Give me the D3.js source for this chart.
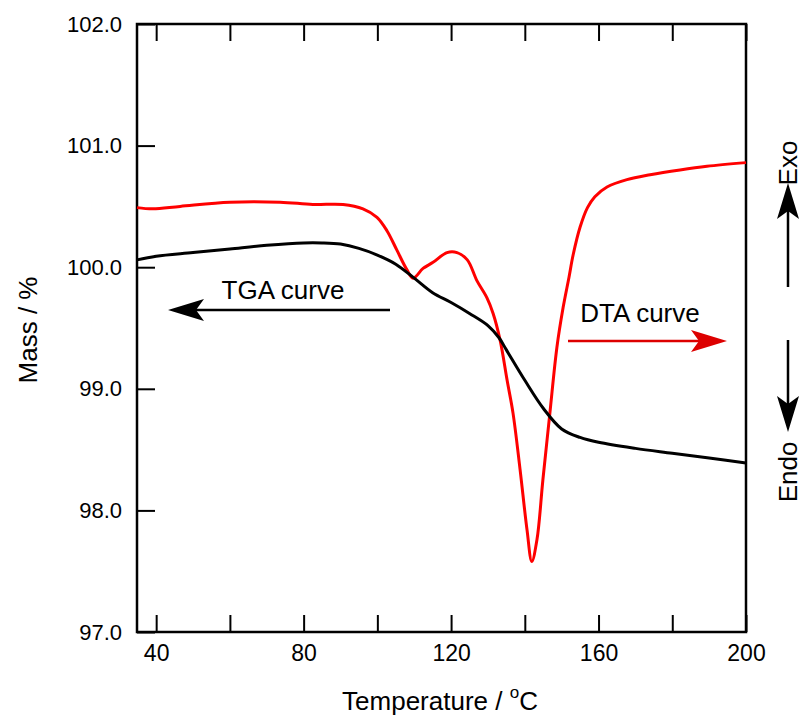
<!DOCTYPE html>
<html>
<head>
<meta charset="utf-8">
<script src="https://cdn.jsdelivr.net/npm/d3@7/dist/d3.min.js"></script>
<style>
  body { margin: 0; background: #fff; }
  text { font-family: "Liberation Sans", Arial, sans-serif; fill: #000; }
</style>
</head>
<body>
<div id="chart"></div>
<script>
// TGA curve (mass %)
var tgaTemp = [34.8, 40, 50, 60, 70, 80, 85, 90, 95, 100, 105, 110, 115, 120, 125, 130, 133, 135, 140, 145, 150, 155, 160, 170, 180, 190, 200];
var tgaMass = [100.06, 100.09, 100.12, 100.15, 100.18, 100.2, 100.2, 100.19, 100.155, 100.1, 100.025, 99.91, 99.79, 99.71, 99.62, 99.52, 99.42, 99.32, 99.07, 98.84, 98.67, 98.6, 98.56, 98.51, 98.47, 98.43, 98.39];

// DTA curve, drawn on the same vertical scale (no axis of its own)
var dtaTemp = [34.8, 39.1, 46.5, 60, 73.6, 82.5, 90.7, 96.1, 99.9, 102.6, 105.3, 108, 109.7, 112.4, 115.1, 118.9, 121.6, 124.4, 127, 129.7, 131.4, 133.3, 135.2, 136.8, 138.7, 140.6, 141.9, 143.3, 144.9, 146.8, 148.7, 150.4, 152, 153.1, 155, 157, 159, 162.3, 167.7, 174, 182.1, 189.4, 200];
var dtaSignal = [100.49, 100.48, 100.5, 100.535, 100.535, 100.516, 100.516, 100.48, 100.41, 100.3, 100.14, 99.98, 99.91, 99.99, 100.04, 100.12, 100.12, 100.06, 99.89, 99.75, 99.62, 99.4, 99.07, 98.8, 98.34, 97.84, 97.58, 97.76, 98.25, 98.8, 99.34, 99.67, 99.92, 100.1, 100.33, 100.49, 100.58, 100.66, 100.72, 100.76, 100.8, 100.83, 100.86];

var xTicks = [40, 60, 80, 100, 120, 140, 160, 180, 200];
var xLabelled = [40, 80, 120, 160, 200];
var yTicks = [97, 98, 99, 100, 101, 102];

var width = 803, height = 717;
var margin = { top: 24, right: 57, bottom: 85, left: 137 };

var x = d3.scaleLinear()
  .domain([34.8, 200])
  .range([margin.left, width - margin.right]);

var y = d3.scaleLinear()
  .domain([97, 102])
  .range([height - margin.bottom, margin.top]);

var svg = d3.select('#chart')
  .append('svg')
  .attr('width', width)
  .attr('height', height);

// axes, ticks pointing inwards
var xAxis = svg.append('g')
  .attr('transform', 'translate(0,' + y(97) + ')')
  .call(d3.axisBottom(x)
    .tickValues(xTicks)
    .tickSizeInner(-17)
    .tickSizeOuter(0)
    .tickPadding(13)
    .tickFormat(function (d) { return xLabelled.indexOf(d) >= 0 ? d : ''; }));
xAxis.selectAll('text').attr('font-size', 23);

svg.append('g')
  .attr('transform', 'translate(0,' + y(102) + ')')
  .call(d3.axisTop(x)
    .tickValues(xTicks)
    .tickSizeInner(-17)
    .tickSizeOuter(0)
    .tickFormat(''));

var yAxis = svg.append('g')
  .attr('transform', 'translate(' + x.range()[0] + ',0)')
  .call(d3.axisLeft(y)
    .tickValues(yTicks)
    .tickSizeInner(-18)
    .tickSizeOuter(0)
    .tickPadding(15)
    .tickFormat(d3.format('.1f')));
yAxis.selectAll('text').attr('font-size', 22);

svg.selectAll('.domain').remove();
svg.selectAll('.tick line').attr('stroke', '#000').attr('stroke-width', 2);
svg.selectAll('.tick text').attr('font-family', '"Liberation Sans", Arial, sans-serif').attr('fill', '#000');

svg.append('rect')
  .attr('x', x.range()[0])
  .attr('y', y(102))
  .attr('width', x.range()[1] - x.range()[0])
  .attr('height', y(97) - y(102))
  .attr('fill', 'none')
  .attr('stroke', '#000')
  .attr('stroke-width', 2.5);

// curves
var tgaLine = d3.line()
  .x(function (d, i) { return x(tgaTemp[i]); })
  .y(function (d) { return y(d); })
  .curve(d3.curveCatmullRom.alpha(0.5));

var dtaLine = d3.line()
  .x(function (d, i) { return x(dtaTemp[i]); })
  .y(function (d) { return y(d); })
  .curve(d3.curveCatmullRom.alpha(0.5));

svg.append('path')
  .datum(dtaSignal)
  .attr('d', dtaLine)
  .attr('fill', 'none')
  .attr('stroke', '#ff0000')
  .attr('stroke-width', 3);

svg.append('path')
  .datum(tgaMass)
  .attr('d', tgaLine)
  .attr('fill', 'none')
  .attr('stroke', '#000')
  .attr('stroke-width', 3);

// axis titles
var xTitle = svg.append('text')
  .attr('x', 440)
  .attr('y', 710)
  .attr('text-anchor', 'middle')
  .attr('font-size', 26);
xTitle.append('tspan').text('Temperature / ');
xTitle.append('tspan').attr('font-size', 17).attr('dy', -12).text('o');
xTitle.append('tspan').attr('dy', 12).text('C');

svg.append('text')
  .attr('transform', 'translate(28,330) rotate(-90)')
  .attr('text-anchor', 'middle')
  .attr('dominant-baseline', 'central')
  .attr('font-size', 26)
  .text('Mass / %');

// annotations
function arrow(g, x1, y1, x2, y2, color) {
  var ang = Math.atan2(y2 - y1, x2 - x1);
  var len = Math.hypot(x2 - x1, y2 - y1);
  var a = g.append('g')
    .attr('transform', 'translate(' + x1 + ',' + y1 + ') rotate(' + (ang * 180 / Math.PI) + ')');
  a.append('line')
    .attr('x1', 0).attr('y1', 0)
    .attr('x2', len - 20).attr('y2', 0)
    .attr('stroke', color)
    .attr('stroke-width', 2.5);
  a.append('path')
    .attr('d', 'M' + len + ',0 L' + (len - 36) + ',-11 L' + (len - 28) + ',0 L' + (len - 36) + ',11 Z')
    .attr('fill', color);
}

svg.append('text')
  .attr('x', 283)
  .attr('y', 299)
  .attr('text-anchor', 'middle')
  .attr('font-size', 26)
  .text('TGA curve');
arrow(svg, 390, 310, 168, 310, '#000');

svg.append('text')
  .attr('x', 640)
  .attr('y', 322)
  .attr('text-anchor', 'middle')
  .attr('font-size', 26)
  .text('DTA curve');
arrow(svg, 568, 341, 727, 341, '#dd0000');

svg.append('text')
  .attr('transform', 'translate(788,163) rotate(-90)')
  .attr('text-anchor', 'middle')
  .attr('dominant-baseline', 'central')
  .attr('font-size', 26)
  .text('Exo');
arrow(svg, 788, 287, 788, 183, '#000');

arrow(svg, 788, 340, 788, 432, '#000');
svg.append('text')
  .attr('transform', 'translate(788,472) rotate(-90)')
  .attr('text-anchor', 'middle')
  .attr('dominant-baseline', 'central')
  .attr('font-size', 26)
  .text('Endo');
</script>
</body>
</html>
